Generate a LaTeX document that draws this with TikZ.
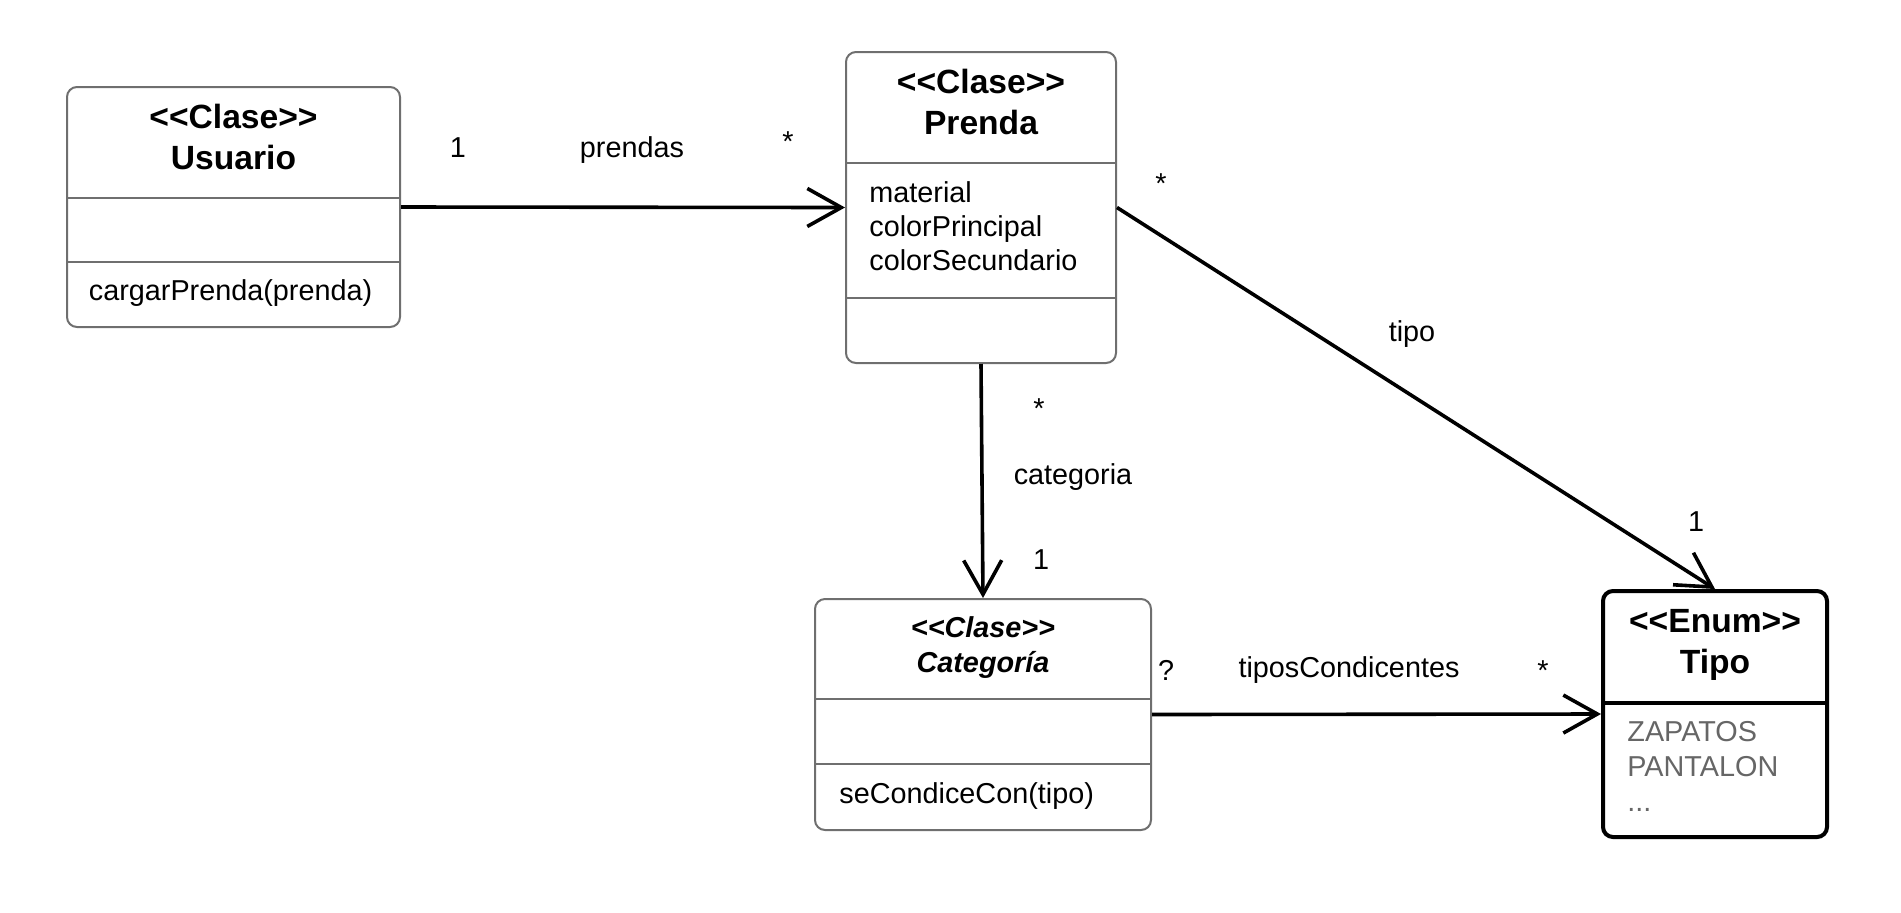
\documentclass[tikz,border=0pt]{standalone}
\usepackage{fontspec}
\setmainfont{Liberation Sans}
\usepackage{tikz}
\usetikzlibrary{arrows.meta}

\definecolor{borde}{HTML}{6F6F6F}
\definecolor{valor}{HTML}{666666}
\newcommand{\estereo}[1]{<{}<#1>{}>}

\tikzset{
  clase/.style={draw=borde, line width=1pt, rounded corners=5pt, inner sep=0pt},
  enum/.style={draw=black, line width=2pt, rounded corners=5pt, inner sep=0pt},
  divisor/.style={draw=borde, line width=0.8pt},
  titulo/.style={font=\fontsize{16.8}{20}\selectfont\bfseries, anchor=base, inner sep=0pt},
  texto/.style={font=\fontsize{14.4}{17}\selectfont, anchor=base west, inner sep=0pt},
  etiq/.style={font=\fontsize{14.4}{17}\selectfont, anchor=base, inner sep=0pt},
  asoc/.style={line width=1.8pt, -{Straight Barb[length=17pt,width=19pt]}},
}

\begin{document}
\begin{tikzpicture}[x=0.5pt, y=-0.5pt]
\useasboundingbox (0,0) rectangle (1901,912);

% cajas
\node[clase, minimum width=166.5pt, minimum height=120pt] (usuario) at (233.5,207) {};
\node[clase, minimum width=135pt, minimum height=155.5pt] (prenda) at (981,207.5) {};
\node[clase, minimum width=168pt, minimum height=115.5pt] (categoria) at (983,714.5) {};
\node[enum, minimum width=112pt, minimum height=123pt] (tipo) at (1715,714) {};

% divisores
\draw[divisor] (usuario.west |- 0,198) -- (usuario.east |- 0,198);
\draw[divisor] (usuario.west |- 0,262) -- (usuario.east |- 0,262);
\draw[divisor] (prenda.west |- 0,163) -- (prenda.east |- 0,163);
\draw[divisor] (prenda.west |- 0,298) -- (prenda.east |- 0,298);
\draw[divisor] (categoria.west |- 0,699) -- (categoria.east |- 0,699);
\draw[divisor] (categoria.west |- 0,764) -- (categoria.east |- 0,764);
\draw[line width=2pt] (tipo.west |- 0,703) -- (tipo.east |- 0,703);

% titulos
\node[titulo] (usuarioE) at (233.5,128) {\estereo{Clase}};
\node[titulo] (usuarioN) at (233.5,169) {Usuario};
\node[titulo] (prendaE) at (981,93) {\estereo{Clase}};
\node[titulo] (prendaN) at (981,134) {Prenda};
\node[titulo, font=\fontsize{14.4}{17}\selectfont\bfseries\itshape] (categoriaE) at (983,637) {\estereo{Clase}};
\node[titulo, font=\fontsize{14.4}{17}\selectfont\bfseries\itshape] (categoriaN) at (983,672) {Categoría};
\node[titulo] (tipoE) at (1715,632) {\estereo{Enum}};
\node[titulo] (tipoN) at (1715,673) {Tipo};

% atributos y metodos
\foreach \a [count=\i] in {material,colorPrincipal,colorSecundario}
  \node[texto] (attr\i) at (869,168+34*\i) {\a};
\node[texto] (cargar) at (88.5,300) {cargarPrenda(prenda)};
\node[texto] (condice) at (839,803) {seCondiceCon(tipo)};
\node[texto, text=valor] (valor1) at (1627,741) {ZAPATOS};
\node[texto, text=valor] (valor2) at (1627,776) {PANTALON};
\node[texto, text=valor] (valor3) at (1627,811) {...};

% asociaciones
\draw[asoc] (usuario.east) -- (prenda.west);
\draw[asoc] (prenda.south) -- (categoria.north);
\draw[asoc] (prenda.east) -- (tipo.north);
\draw[asoc] (categoria.east) -- (tipo.west);

% etiquetas
\node[etiq] (m1) at (458,157) {1};
\node[etiq] (prendas) at (632,157) {prendas};
\node[etiq] (m2) at (788,151) {*};
\node[etiq] (m3) at (1161,193) {*};
\node[etiq] (tipoL) at (1412,341) {tipo};
\node[etiq] (m4) at (1696,531) {1};
\node[etiq] (m5) at (1039,418) {*};
\node[etiq] (categoriaL) at (1073,484) {categoria};
\node[etiq] (m6) at (1041,569) {1};
\node[etiq] (m7) at (1166,680) {?};
\node[etiq] (tiposC) at (1349,677) {tiposCondicentes};
\node[etiq] (m8) at (1543,680) {*};

\end{tikzpicture}
\end{document}
